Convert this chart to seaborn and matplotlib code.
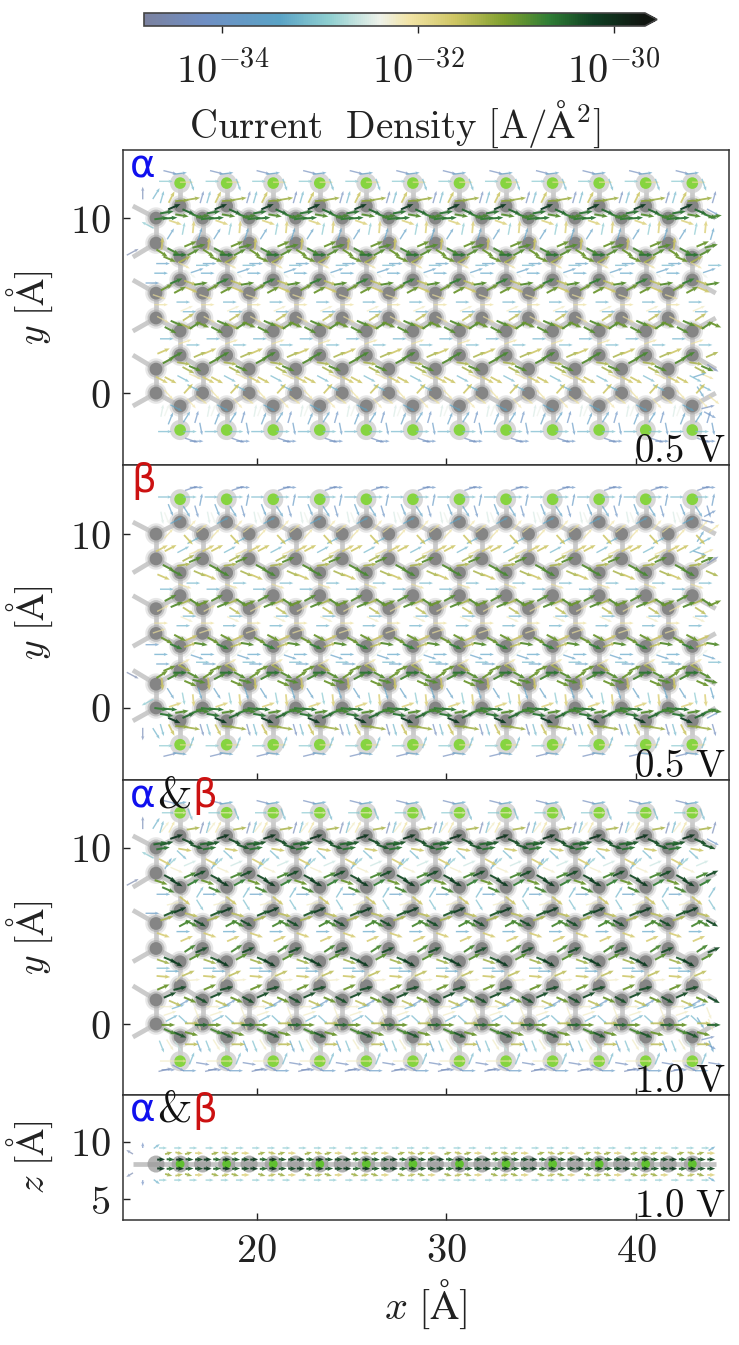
import numpy as np
import pandas as pd
import seaborn as sns
import matplotlib
matplotlib.use("Agg")
import matplotlib.pyplot as plt
from matplotlib.colors import LinearSegmentedColormap, LogNorm
from matplotlib.cm import ScalarMappable

# ---------- lattice (Angstrom) ----------
cell_x = 2.455
h_col_x = 15.96
half_col_x = 14.69
n_cols = 12
h_rows = [12.0, -2.11]
c_rows_main = [10.69, 7.77, 6.46, 3.54, 2.17, -0.74]
c_rows_half = [10.0, 8.57, 5.71, 4.29, 1.37, 0.0]
ghost_left_x = 13.47
ghost_right_x = 44.2
side_z = 8.05

# ---------- panel 1 current vectors in one cell: offset, y, angle, log10 J ----------
p1_dx = [-.53,.0,-.75,.35,.62,-.45,-.95,.7,1.15,.1,-.3,-.7,.45,.95,-1.0,-.5,.1,1.2,.7,.18,-.5,-.25,-.95,1.05,
         .55,1.0,-.35,-.55,.25,.7,-.95,.0,-.9,.2,1.2,-1.0,.9,.55,-.2,-.7,0,.55,.6,1.1,-1.1,.17,.5,-1.0,.35,.44,-.9,
         -.17,-.5,.8,1.2,.35,.26,-.7,-.87,.7,-.17,-.6,.2,.8,.44,1.05,-.5,.17,.44,-.96,.8,-.6,.7,
         .6,1.15,-.95,-.2,-.7,.35,.87,-.5,.52,-.8,.87,.6,1.1]
p1_y = [12.62,12.55,12.1,12.05,11.9,11.2,11.2,11.1,11.2,11.0,10.65,10.33,10.35,10.1,9.98,10.0,10.15,10.1,9.5,9.4,9.1,9.75,8.55,9.1,
        8.52,8.4,8.1,7.65,7.65,8.05,8.0,7.9,7.4,7.3,7.3,6.85,7.0,6.8,6.4,6.05,5.9,6.3,5.9,6.25,5.5,5.2,4.65,5.05,4.83,4.35,4.2,
        3.98,3.6,3.88,3.9,3.8,2.93,3.1,2.4,2.75,2.17,1.88,1.7,1.4,1.31,2.2,.74,.82,.26,.75,.95,-.1,.3,
        -.6,-.4,-1.0,-.85,-.98,-1.36,-1.36,-1.45,-2.2,-2.2,-2.75,-2.7,-2.05]
p1_ang = [-15,8,0,0,-72,65,75,10,75,5,25,10,-25,-20,8,5,-10,10,85,80,60,-20,85,75,
          25,15,-30,-25,30,30,-35,0,0,-30,0,0,20,-40,25,30,30,-20,-25,10,-20,0,0,0,25,35,-30,
          -25,-30,35,-25,-25,20,0,25,0,30,30,-10,-25,-30,25,-30,-30,50,-30,-25,-50,-30,
          -50,-40,80,-30,70,60,75,70,0,0,0,-20,-80]
p1_log = [-34.3,-33.6,-33.0,-32.0,-33.2,-31.6,-33.2,-31.3,-34.3,-31.2,-30.2,-30.6,-30.5,-30.7,-30.7,-30.6,-30.9,-30.8,-31.8,-33.0,-33.6,-31.8,-31.6,-33.5,
          -31.0,-30.9,-30.8,-31.0,-31.4,-30.9,-31.0,-30.6,-33.6,-32.0,-33.2,-33.4,-33.6,-32.4,-30.7,-31.0,-31.0,-31.5,-31.6,-30.9,-32.0,-33.3,-33.3,-32.0,-32.2,-31.5,-32.0,
          -30.9,-30.9,-30.9,-31.0,-31.4,-32.0,-33.3,-31.6,-33.2,-30.8,-30.9,-31.4,-30.9,-31.4,-31.4,-31.6,-33.2,-31.6,-31.7,-32.0,-32.0,-33.3,
          -32.1,-32.0,-32.5,-33.4,-32.4,-33.5,-34.0,-33.6,-33.1,-33.2,-34.0,-34.3,-33.8]

# ---------- panel 3 current vectors in one cell ----------
p3_dx = [-.53,.0,-.6,.0,.53,-.97,-.44,.7,1.15,-.79,-.18,-.7,.44,.88,-1.05,-.9,.26,.09,-.62,.53,-.8,-.18,-.44,
         1.05,.53,-.53,-.18,-.62,.7,-1.0,-.88,.26,1.05,-.35,1.05,.0,0,-.53,-.7,.62,1.05,.26,.6,-.88,.17,.35,
         1.14,.53,-.53,-.18,-.88,.8,-.88,.44,.0,-.88,.7,-.4,0,-.53,1.14,.53,-.88,-.26,
         -.7,-.1,.18,.18,-.53,-.44,.88,1.14,.62,-.62,0,-.53,.6,.97,.62,-.53,-.97,-.1,1.0,
         0,.62,-.7,1.2,-.62,-.09,-.79,.5]
p3_y = [12.6,12.55,12.0,12.0,11.9,11.2,11.2,11.1,11.17,11.2,10.64,10.26,10.36,10.07,10.26,9.98,9.9,9.6,9.13,9.13,9.2,8.75,9.2,
        8.56,8.46,8.28,8.0,7.62,8.05,8.05,7.37,7.0,7.5,6.85,6.75,7.3,6.48,6.3,6.0,5.7,5.72,5.72,6.2,5.05,5.25,4.85,
        4.21,4.3,3.64,3.45,3.55,3.83,3.17,2.88,2.7,2.7,2.5,3.0,2.03,1.65,1.37,1.37,2.1,1.18,
        .99,.99,.23,1.2,.61,.33,.61,-.05,.04,-.05,-.62,-.43,-.55,-.05,-1.15,-1.19,-1.28,-1.28,-1.28,
        -2.1,-1.95,-2.1,-2.25,-2.6,-2.5,-2.6,-2.65]
p3_ang = [-15,10,0,0,-70,75,65,10,75,55,20,15,-25,-20,10,10,-10,-45,60,25,-30,-25,45,
          25,25,-30,-30,-25,30,-20,0,-40,60,15,-60,-20,25,25,20,-30,-30,30,-15,-20,0,25,
          25,35,-25,-30,-20,30,0,25,50,-5,5,0,15,25,-30,-25,25,-25,
          0,20,-45,30,20,30,-70,0,0,0,-25,-25,-15,-70,0,-60,-70,-60,-70,
          0,70,0,-10,0,-30,15,0]
p3_log = [-34.3,-33.4,-33.0,-32.2,-33.2,-33.2,-32.0,-31.4,-34.4,-32.2,-30.1,-30.4,-30.3,-30.4,-30.5,-30.6,-31.6,-33.2,-33.6,-32.6,-31.7,-32.2,-33.0,
          -30.3,-30.8,-30.3,-30.2,-30.8,-30.7,-31.0,-33.6,-31.6,-33.2,-32.2,-33.1,-32.4,-30.2,-30.4,-31.4,-30.8,-30.3,-30.8,-31.5,-31.7,-33.4,-31.7,
          -30.3,-30.8,-30.4,-30.2,-31.3,-30.9,-33.2,-31.5,-32.2,-31.6,-32.2,-33.4,-30.3,-30.3,-30.3,-31.0,-31.0,-31.5,
          -32.2,-33.3,-33.2,-33.9,-32.2,-33.3,-32.2,-30.5,-31.5,-31.0,-30.4,-30.8,-31.0,-32.2,-31.5,-32.2,-33.1,-32.6,-33.5,
          -32.1,-33.2,-32.2,-34.3,-34.2,-34.2,-34.4,-33.8]

# ---------- panel 4 (side view) current vectors in one cell ----------
p4_dx = [-.9,-.1,.7, -.6,-.05,.45,1.0, -1.0,-.5,0,.5,1.0, -1.0,-.5,0,.5,1.0, -.6,-.05,.45,1.0, -.9,-.1,.7]
p4_z = [9.45,9.45,9.45, 9.0,9.0,9.0,9.0, 8.45,8.45,8.45,8.45,8.45, 7.65,7.65,7.65,7.65,7.65, 7.1,7.1,7.1,7.1, 6.65,6.65,6.65]
p4_ang = [0,0,0, 25,-20,25,0, 5,-5,5,-5,0, -5,5,-5,5,0, -25,20,-25,0, 0,0,0]
p4_log = [-33.0,-33.0,-33.0, -31.3,-31.5,-31.3,-31.8, -30.2,-30.5,-30.1,-30.4,-30.3, -30.2,-30.5,-30.1,-30.4,-30.3, -31.3,-31.5,-31.3,-31.8, -33.0,-33.0,-33.0]

# ---------- pale arrows beyond the ribbon edges ----------
edge1_x = [13.99,13.46,14.5,14.7,14.25,44.05,43.36,44.05,43.8,43.9,43.4]
edge1_y = [11.43,8.06,6.29,11.4,9.6,10.34,1.03,1.43,-.8,-1.25,.06]
edge1_ang = [90,30,0,60,150,-30,20,-35,15,-30,-60]
edge1_log = [-34.4,-34.6,-33.8,-33.3,-33.0,-34.0,-33.5,-34.4,-34.3,-34.0,-33.5]
edge4_x = [13.3,13.99,14.73,13.3,13.99,14.73,44.0,44.0]
edge4_z = [9.1,9.7,9.6,7.1,6.4,6.5,9.4,6.7]
edge4_ang = [135,90,50,-135,-90,-50,45,-45]
edge4_log = [-34.5,-34.2,-33.3,-34.5,-34.2,-33.3,-33.4,-33.4]

# ---------- colour scale and labels ----------
cmap_pos = [0,.12,.27,.37,.47,.53,.62,.72,.81,.90,1]
cmap_col = ['#7b82a0','#6f8fc4','#5aa3c6','#8fcfd0','#eef2ea','#f2e4a6','#cfc664','#7f9f2e','#2f7d35','#0f3d22','#101510']
log_min, log_max = -34.8, -29.68
cbar_ticks = [1e-34, 1e-32, 1e-30]
cbar_labels = ['$10^{-34}$', '$10^{-32}$', '$10^{-30}$']
y_ticks = [0, 10]
z_ticks = [5, 10]
x_ticks = [20, 30, 40]
volt_labels = ['0.5', '0.5', '1.0', '1.0']

sns.set_theme(style='ticks')
plt.rcParams['mathtext.fontset'] = 'cm'
plt.rcParams['font.family'] = ['DejaVu Serif']
plt.rcParams['axes.formatter.use_mathtext'] = True
plt.rcParams['axes.unicode_minus'] = False

W, H = 739, 1345
fig = plt.figure(figsize=(W / 100, H / 100), dpi=100, facecolor='white')
cmap = LinearSegmentedColormap.from_list('cur', list(zip(cmap_pos, cmap_col)))
norm = LogNorm(10.0 ** log_min, 10.0 ** log_max)


def rect(l, t, r, b):
    return [l / W, 1 - b / H, (r - l) / W, (b - t) / H]


def quiv(ax, x, y, ang, logj, length=0.72):
    x, y, ang, logj = map(np.asarray, (x, y, ang, logj))
    tiers = [(-40, -31.9, 1.4, .68), (-31.9, -31.05, 1.8, .85), (-31.05, 0, 2.0, .95)]
    for z, (lo, hi, w, al) in enumerate(tiers):
        m = (logj >= lo) & (logj < hi)
        a = np.deg2rad(ang[m])
        ax.quiver(x[m], y[m], length * np.cos(a), length * np.sin(a), 10.0 ** logj[m], cmap=cmap, norm=norm,
                  angles='xy', scale_units='xy', scale=1, pivot='mid', units='dots', width=w,
                  headwidth=2.3, headlength=3, headaxislength=2.6, alpha=al, zorder=5 + z)


def tile(dx, y, ang, logj):
    c = np.arange(n_cols)
    xs = (h_col_x + c[:, None] * cell_x + np.asarray(dx)[None, :]).ravel()
    return xs, np.tile(y, n_cols), np.tile(ang, n_cols), np.tile(logj, n_cols)


hx = h_col_x + np.arange(n_cols) * cell_x
cx = half_col_x + np.arange(n_cols) * cell_x


def atoms_top(ax):
    h = pd.DataFrame({'x': np.tile(hx, len(h_rows)), 'y': np.repeat(h_rows, n_cols)})
    c = pd.concat([
        pd.DataFrame({'x': np.tile(hx, len(c_rows_main)), 'y': np.repeat(c_rows_main, n_cols)}),
        pd.DataFrame({'x': np.tile(cx, len(c_rows_half)), 'y': np.repeat(c_rows_half, n_cols)})])
    g = pd.concat([
        pd.DataFrame({'x': ghost_left_x, 'y': c_rows_main}),
        pd.DataFrame({'x': ghost_right_x, 'y': c_rows_half})])
    real = pd.concat([h, c]).to_numpy()
    ghost = g.to_numpy()
    for i in range(len(real)):
        others = np.vstack([real[i + 1:], ghost])
        d = np.hypot(*(others - real[i]).T)
        for j in np.nonzero(d < 1.55)[0]:
            p, q = real[i], others[j]
            ax.plot([p[0], q[0]], [p[1], q[1]], color='#cbcbcb', lw=3.4, solid_capstyle='butt', zorder=1)
    sns.scatterplot(data=c, x='x', y='y', ax=ax, s=240, color='#c4c4c4', alpha=.4, edgecolor='none', zorder=2, legend=False)
    sns.scatterplot(data=c, x='x', y='y', ax=ax, s=150, color='#a8a8a8', alpha=.6, edgecolor='none', zorder=2, legend=False)
    sns.scatterplot(data=c, x='x', y='y', ax=ax, s=85, color='#858585', edgecolor='none', zorder=3, legend=False)
    sns.scatterplot(data=h, x='x', y='y', ax=ax, s=210, color='#cfcfcf', alpha=.8, edgecolor='none', zorder=2, legend=False)
    sns.scatterplot(data=h, x='x', y='y', ax=ax, s=70, color='#86d440', edgecolor='none', zorder=3, legend=False)


def style(ax, ylim, yticks, ylab, bottom=False):
    ax.set_xlim(12.95, 44.9)
    ax.set_ylim(*ylim)
    ax.set_xticks(x_ticks)
    ax.set_yticks(yticks)
    ax.set_xlabel('')
    ax.set_ylabel(ylab, fontsize=27, labelpad=0, color='#222222')
    ax.yaxis.set_label_coords(-0.112, 0.5)
    ax.tick_params(direction='in', length=5, width=1, color='#222222', labelsize=29, pad=9,
                   labelbottom=bottom, bottom=True, left=True, labelcolor='#222222')
    ax.set_yticklabels([f'${t}$' for t in yticks])
    ax.set_xticklabels([f'${t}$' for t in x_ticks])
    for s in ax.spines.values():
        s.set_visible(True)
        s.set_color('#333333')
        s.set_linewidth(1.1)


def tag(ax, parts, volt, height):
    for x, s, col, fam, fs in parts:
        ax.text((x - 123) / 606, 1 - 27 / height, s, transform=ax.transAxes, color=col, fontsize=fs,
                family=fam, ha='left', va='baseline', zorder=8)
    ax.text(602 / 606, 3 / height, rf'$\mathrm{{{volt}\ V}}$', transform=ax.transAxes, ha='right', va='baseline',
            fontsize=28, color='#111111', zorder=8)


A = (130, 'α', '#1010ee', 'DejaVu Sans', 28)
AMP = (157, '&', '#111111', 'cmr10', 32)
B = (192, 'β', '#cc1111', 'DejaVu Sans', 28)
B2 = (131, 'β', '#cc1111', 'DejaVu Sans', 28)
ANG = r'[\mathrm{\AA}]'

# panel 1
ax1 = fig.add_axes(rect(123, 150, 729, 465))
atoms_top(ax1)
quiv(ax1, *tile(p1_dx, p1_y, p1_ang, p1_log))
quiv(ax1, edge1_x, edge1_y, edge1_ang, edge1_log)
style(ax1, (-4.11, 13.89), y_ticks, rf'$y\ {ANG}$')
tag(ax1, [A], volt_labels[0], 315)

# panel 2 is the mirror image of panel 1 across the ribbon axis
ax2 = fig.add_axes(rect(123, 465, 729, 780))
atoms_top(ax2)
mirror = 9.93
x2, y2, a2, l2 = tile(p1_dx, p1_y, p1_ang, p1_log)
quiv(ax2, x2, mirror - y2, -a2, l2)
quiv(ax2, edge1_x, mirror - np.array(edge1_y), -np.array(edge1_ang), edge1_log)
style(ax2, (-4.14, 13.97), y_ticks, rf'$y\ {ANG}$')
tag(ax2, [B2], volt_labels[1], 315)

# panel 3
ax3 = fig.add_axes(rect(123, 780, 729, 1095))
atoms_top(ax3)
quiv(ax3, *tile(p3_dx, p3_y, p3_ang, p3_log))
quiv(ax3, edge1_x, edge1_y, edge1_ang, edge1_log)
style(ax3, (-4.03, 13.86), y_ticks, rf'$y\ {ANG}$')
tag(ax3, [A, AMP, B], volt_labels[2], 315)

# panel 4
ax4 = fig.add_axes(rect(123, 1095, 729, 1220))
ax4.plot([ghost_left_x, ghost_right_x], [side_z, side_z], color='#c4c4c4', lw=3.4, solid_capstyle='butt', zorder=1)
side_c = pd.DataFrame({'x': np.r_[cx, hx], 'y': side_z})
side_h = pd.DataFrame({'x': hx, 'y': side_z})
sns.scatterplot(data=side_c, x='x', y='y', ax=ax4, s=150, color='#9a9a9a', alpha=.75, edgecolor='none', zorder=2, legend=False)
sns.scatterplot(data=side_h, x='x', y='y', ax=ax4, s=40, color='#60c030', edgecolor='none', zorder=3, legend=False)
xs4, ys4, as4, ls4 = tile(p4_dx, p4_z, p4_ang, p4_log)
quiv(ax4, xs4, ys4, as4, ls4, length=.42)
quiv(ax4, edge4_x, edge4_z, edge4_ang, edge4_log, length=.5)
style(ax4, (3.17, 14.07), z_ticks, rf'$z\ {ANG}$', bottom=True)
tag(ax4, [A, AMP, B], volt_labels[3], 125)
ax4.set_xlabel(rf'$x\ {ANG}$', fontsize=29, labelpad=6, color='#222222')

# colour bar
cax = fig.add_axes(rect(144, 13, 657, 26))
cb = fig.colorbar(ScalarMappable(norm=norm, cmap=cmap), cax=cax, orientation='horizontal',
                  extend='max', extendfrac=12 / 501, ticks=cbar_ticks)
cb.minorticks_off()
cb.ax.set_xticklabels(cbar_labels)
cb.outline.set_edgecolor('#444444')
cb.outline.set_linewidth(1.2)
cb.ax.tick_params(direction='out', length=5, width=1, color='#222222', labelsize=29, pad=13, labelcolor='#222222')
cb.set_label(r'$\mathrm{Current\ \ Density\ [A/\AA^2]}$', fontsize=28, labelpad=6, color='#222222')

fig.savefig('out.png', dpi=100, facecolor='white')
